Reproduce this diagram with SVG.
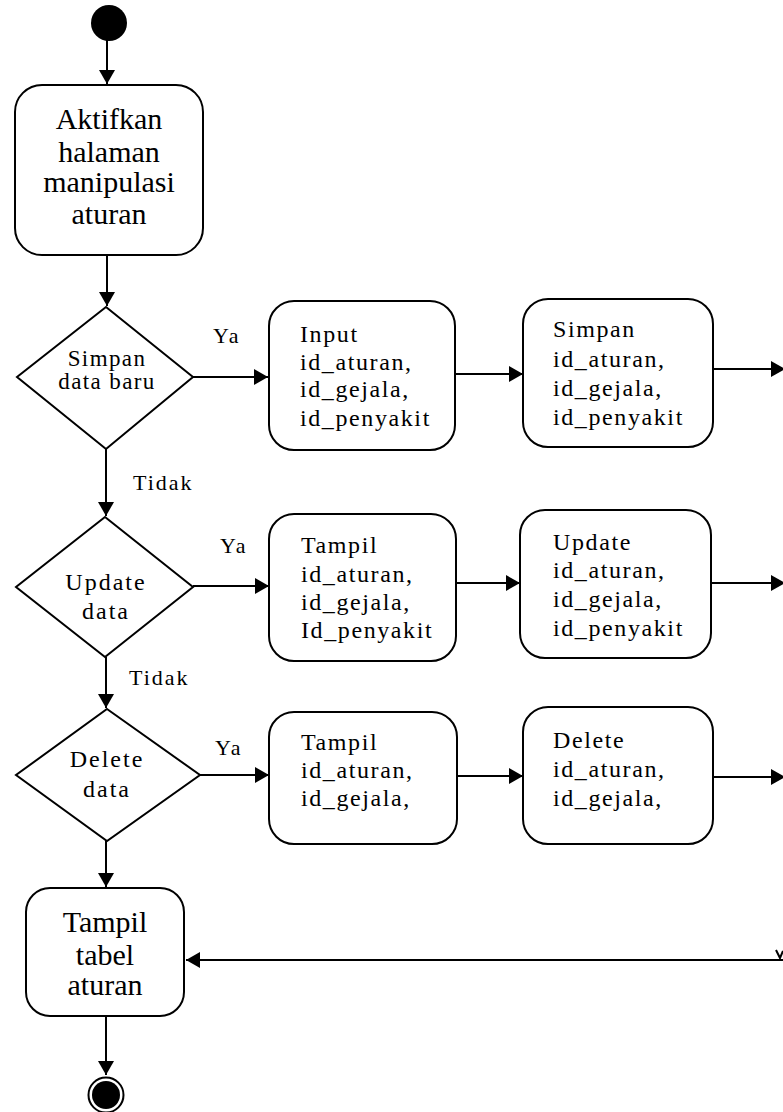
<svg xmlns="http://www.w3.org/2000/svg" width="783" height="1112" viewBox="0 0 783 1112">
  <style>
    .node { fill: #ffffff; stroke: #000000; stroke-width: 2; }
    .edge { fill: none; stroke: #000000; stroke-width: 2; }
    .big { font-family: "Liberation Serif", "Times New Roman", serif; font-size: 30px; fill: #000; text-anchor: middle; }
    .act { font-family: "Liberation Serif", "Times New Roman", serif; font-size: 24px; fill: #000; letter-spacing: 1.6px; }
    .dec { font-family: "Liberation Serif", "Times New Roman", serif; font-size: 24px; fill: #000; text-anchor: middle; letter-spacing: 2px; }
    .dec-s { font-size: 23px; letter-spacing: 1.4px; }
    .lbl { font-family: "Liberation Serif", "Times New Roman", serif; font-size: 22px; fill: #000; letter-spacing: 2px; }
  </style>
  <defs>
    <marker id="arrow" markerWidth="14" markerHeight="16" refX="14" refY="8" orient="auto" markerUnits="userSpaceOnUse">
      <path d="M0,0 L14,8 L0,16 z" fill="#000"/>
    </marker>
  </defs>

  <rect width="783" height="1112" fill="#ffffff"/>

  <!-- connectors -->
  <g id="connectors">
    <line class="edge" x1="107" y1="40" x2="107" y2="84" marker-end="url(#arrow)"/>
    <line class="edge" x1="107" y1="256" x2="107" y2="306" marker-end="url(#arrow)"/>
    <line class="edge" x1="193" y1="377" x2="268" y2="377" marker-end="url(#arrow)"/>
    <line class="edge" x1="455" y1="374" x2="523" y2="374" marker-end="url(#arrow)"/>
    <line class="edge" x1="713" y1="369" x2="785" y2="369" marker-end="url(#arrow)"/>
    <line class="edge" x1="106" y1="449" x2="106" y2="516" marker-end="url(#arrow)"/>
    <line class="edge" x1="193" y1="586" x2="269" y2="586" marker-end="url(#arrow)"/>
    <line class="edge" x1="456" y1="583" x2="520" y2="583" marker-end="url(#arrow)"/>
    <line class="edge" x1="711" y1="583" x2="785" y2="583" marker-end="url(#arrow)"/>
    <line class="edge" x1="106" y1="657" x2="106" y2="708" marker-end="url(#arrow)"/>
    <line class="edge" x1="200" y1="775" x2="269" y2="775" marker-end="url(#arrow)"/>
    <line class="edge" x1="457" y1="776" x2="523" y2="776" marker-end="url(#arrow)"/>
    <line class="edge" x1="713" y1="777" x2="785" y2="777" marker-end="url(#arrow)"/>
    <line class="edge" x1="106" y1="841" x2="106" y2="887" marker-end="url(#arrow)"/>
    <line class="edge" x1="783" y1="960" x2="186" y2="960" marker-end="url(#arrow)"/>
    <line class="edge" x1="106" y1="1016" x2="106" y2="1075" marker-end="url(#arrow)"/>
    <path class="edge" d="M776,950 L780,958 L783,951" stroke-width="1.5"/>

    <text class="lbl" x="213" y="343">Ya</text>
    <text class="lbl" x="133" y="490">Tidak</text>
    <text class="lbl" x="220" y="553">Ya</text>
    <text class="lbl" x="129" y="685">Tidak</text>
    <text class="lbl" x="215" y="755">Ya</text>
  </g>

  <!-- start -->
  <g id="start">
    <circle cx="109" cy="23" r="18" fill="#000"/>
  </g>

  <g id="aktifkan">
    <rect class="node" x="15" y="85" width="188" height="170" rx="27" ry="27"/>
    <text class="big" x="109" y="129">Aktifkan</text>
    <text class="big" x="109" y="162">halaman</text>
    <text class="big" x="109" y="192">manipulasi</text>
    <text class="big" x="109" y="224">aturan</text>
  </g>

  <g id="dec-simpan">
    <polygon class="node" points="106,307 193,377 106,449 17,377"/>
    <text class="dec dec-s" x="107" y="366">Simpan</text>
    <text class="dec dec-s" x="107" y="389">data baru</text>
  </g>

  <g id="input">
    <rect class="node" x="269" y="301" width="186" height="149" rx="25" ry="25"/>
    <text class="act" x="300" y="342">Input</text>
    <text class="act" x="300" y="370">id_aturan,</text>
    <text class="act" x="300" y="397">id_gejala,</text>
    <text class="act" x="300" y="426">id_penyakit</text>
  </g>

  <g id="simpan">
    <rect class="node" x="523" y="299" width="190" height="148" rx="25" ry="25"/>
    <text class="act" x="553" y="337">Simpan</text>
    <text class="act" x="553" y="367">id_aturan,</text>
    <text class="act" x="553" y="396">id_gejala,</text>
    <text class="act" x="553" y="425">id_penyakit</text>
  </g>

  <g id="dec-update">
    <polygon class="node" points="105,517 193,587 105,657 16,587"/>
    <text class="dec" x="106" y="590">Update</text>
    <text class="dec" x="106" y="619">data</text>
  </g>

  <g id="tampil-update">
    <rect class="node" x="269" y="514" width="187" height="147" rx="25" ry="25"/>
    <text class="act" x="301" y="553">Tampil</text>
    <text class="act" x="301" y="582">id_aturan,</text>
    <text class="act" x="301" y="610">id_gejala,</text>
    <text class="act" x="301" y="638">Id_penyakit</text>
  </g>

  <g id="update">
    <rect class="node" x="520" y="510" width="191" height="148" rx="25" ry="25"/>
    <text class="act" x="553" y="550">Update</text>
    <text class="act" x="553" y="578">id_aturan,</text>
    <text class="act" x="553" y="607">id_gejala,</text>
    <text class="act" x="553" y="636">id_penyakit</text>
  </g>

  <g id="dec-delete">
    <polygon class="node" points="107,709 200,775 107,841 16,775"/>
    <text class="dec" x="107" y="767">Delete</text>
    <text class="dec" x="107" y="797">data</text>
  </g>

  <g id="tampil-delete">
    <rect class="node" x="269" y="712" width="188" height="132" rx="25" ry="25"/>
    <text class="act" x="301" y="750">Tampil</text>
    <text class="act" x="301" y="778">id_aturan,</text>
    <text class="act" x="301" y="806">id_gejala,</text>
  </g>

  <g id="delete">
    <rect class="node" x="523" y="707" width="190" height="137" rx="25" ry="25"/>
    <text class="act" x="553" y="748">Delete</text>
    <text class="act" x="553" y="777">id_aturan,</text>
    <text class="act" x="553" y="806">id_gejala,</text>
  </g>

  <g id="tampil-tabel">
    <rect class="node" x="26" y="888" width="158" height="128" rx="24" ry="24"/>
    <text class="big" x="105" y="932">Tampil</text>
    <text class="big" x="105" y="965">tabel</text>
    <text class="big" x="105" y="995">aturan</text>
  </g>

  <g id="end">
    <circle cx="106" cy="1095" r="17.5" fill="#fff" stroke="#000" stroke-width="2"/>
    <circle cx="106" cy="1095" r="14" fill="#000"/>
  </g>
</svg>
